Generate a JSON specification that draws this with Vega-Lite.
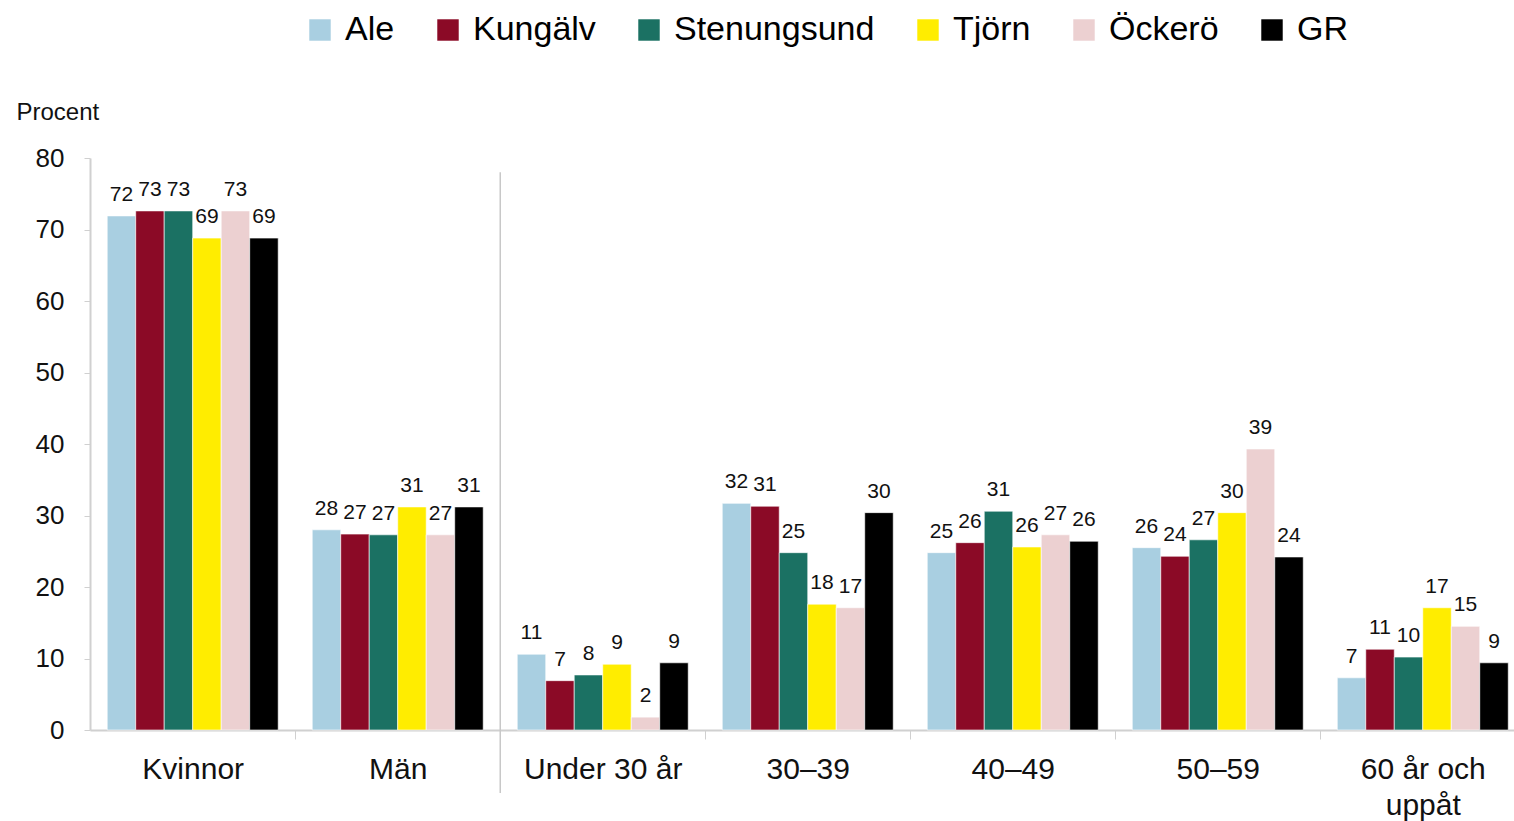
{
  "$schema": "https://vega.github.io/schema/vega-lite/v6.json",
  "width": 1424,
  "height": 572,
  "autosize": "none",
  "padding": {"left": 90, "top": 158, "right": 0, "bottom": 91},
  "background": "white",
  "config": {"view": {"stroke": null}, "font": "Liberation Sans"},
  "datasets": {
    "bars": [
      {"cat": "Kvinnor", "series": "Ale", "value": 71.9},
      {"cat": "Kvinnor", "series": "Kungälv", "value": 72.6},
      {"cat": "Kvinnor", "series": "Stenungsund", "value": 72.6},
      {"cat": "Kvinnor", "series": "Tjörn", "value": 68.8},
      {"cat": "Kvinnor", "series": "Öckerö", "value": 72.6},
      {"cat": "Kvinnor", "series": "GR", "value": 68.8},
      {"cat": "Män", "series": "Ale", "value": 28.0},
      {"cat": "Män", "series": "Kungälv", "value": 27.4},
      {"cat": "Män", "series": "Stenungsund", "value": 27.3},
      {"cat": "Män", "series": "Tjörn", "value": 31.2},
      {"cat": "Män", "series": "Öckerö", "value": 27.3},
      {"cat": "Män", "series": "GR", "value": 31.2},
      {"cat": "Under 30 år", "series": "Ale", "value": 10.6},
      {"cat": "Under 30 år", "series": "Kungälv", "value": 6.9},
      {"cat": "Under 30 år", "series": "Stenungsund", "value": 7.7},
      {"cat": "Under 30 år", "series": "Tjörn", "value": 9.2},
      {"cat": "Under 30 år", "series": "Öckerö", "value": 1.8},
      {"cat": "Under 30 år", "series": "GR", "value": 9.4},
      {"cat": "30–39", "series": "Ale", "value": 31.7},
      {"cat": "30–39", "series": "Kungälv", "value": 31.3},
      {"cat": "30–39", "series": "Stenungsund", "value": 24.8},
      {"cat": "30–39", "series": "Tjörn", "value": 17.6},
      {"cat": "30–39", "series": "Öckerö", "value": 17.1},
      {"cat": "30–39", "series": "GR", "value": 30.4},
      {"cat": "40–49", "series": "Ale", "value": 24.8},
      {"cat": "40–49", "series": "Kungälv", "value": 26.2},
      {"cat": "40–49", "series": "Stenungsund", "value": 30.6},
      {"cat": "40–49", "series": "Tjörn", "value": 25.6},
      {"cat": "40–49", "series": "Öckerö", "value": 27.3},
      {"cat": "40–49", "series": "GR", "value": 26.4},
      {"cat": "50–59", "series": "Ale", "value": 25.5},
      {"cat": "50–59", "series": "Kungälv", "value": 24.3},
      {"cat": "50–59", "series": "Stenungsund", "value": 26.6},
      {"cat": "50–59", "series": "Tjörn", "value": 30.4},
      {"cat": "50–59", "series": "Öckerö", "value": 39.3},
      {"cat": "50–59", "series": "GR", "value": 24.2},
      {"cat": "60 år och uppåt", "series": "Ale", "value": 7.3},
      {"cat": "60 år och uppåt", "series": "Kungälv", "value": 11.3},
      {"cat": "60 år och uppåt", "series": "Stenungsund", "value": 10.2},
      {"cat": "60 år och uppåt", "series": "Tjörn", "value": 17.1},
      {"cat": "60 år och uppåt", "series": "Öckerö", "value": 14.5},
      {"cat": "60 år och uppåt", "series": "GR", "value": 9.4}
    ],
    "sep": [{"cat": "Under 30 år", "top": 78, "bottom": -8.8}]
  },
  "layer": [
    {
      "data": {"name": "bars"},
      "mark": {"type": "bar", "stroke": "white", "strokeWidth": 0.6},
      "encoding": {
        "x": {
          "field": "cat", "type": "nominal", "sort": null,
          "scale": {"paddingInner": 0.166, "paddingOuter": 0.056, "align": 0.75},
          "axis": {
            "title": null, "labelAngle": 0, "labelFontSize": 30, "labelColor": "#111",
            "labelFont": "Liberation Sans", "labelPadding": 30,
            "tickOffset": 102.5, "labelOffset": -102.5, "tickSize": 9, "tickColor": "#d0d0d0",
            "domainColor": "#d0d0d0", "domainWidth": 2,
            "labelLineHeight": 36, "labelBaseline": "middle",
            "labelExpr": "datum.label == '60 år och uppåt' ? ['60 år och', 'uppåt'] : datum.label"
          }
        },
        "xOffset": {"field": "series", "type": "nominal", "sort": ["Ale", "Kungälv", "Stenungsund", "Tjörn", "Öckerö", "GR"]},
        "y": {
          "field": "value", "type": "quantitative",
          "scale": {"domain": [0, 80], "nice": false},
          "axis": {
            "title": "Procent", "titleAngle": 0, "titleAlign": "left", "titleBaseline": "middle",
            "titleX": -74, "titleY": -46, "titleFontSize": 24, "titleFontWeight": "normal", "titleColor": "#111",
            "titleFont": "Liberation Sans",
            "values": [0, 10, 20, 30, 40, 50, 60, 70, 80], "labelOverlap": false,
            "grid": false, "labelFontSize": 26, "labelColor": "#111", "labelPadding": 20,
            "tickSize": 6, "tickColor": "#d0d0d0", "domainColor": "#d0d0d0", "domainWidth": 2
          }
        },
        "color": {
          "field": "series", "type": "nominal",
          "sort": ["Ale", "Kungälv", "Stenungsund", "Tjörn", "Öckerö", "GR"],
          "scale": {
            "domain": ["Ale", "Kungälv", "Stenungsund", "Tjörn", "Öckerö", "GR"],
            "range": ["#a9cfe1", "#8b0a26", "#1b7163", "#ffed00", "#ecd0d1", "#000000"]
          },
          "legend": {
            "title": null, "orient": "none", "direction": "horizontal",
            "legendX": 213, "legendY": -145,
            "symbolType": "square", "symbolSize": 460, "symbolStrokeWidth": 0,
            "labelFontSize": 34, "labelFont": "Liberation Sans",
            "labelColor": "#000", "columnPadding": 36, "labelOffset": 8, "labelLimit": 400
          }
        }
      }
    },
    {
      "data": {"name": "bars"},
      "mark": {"type": "text", "baseline": "alphabetic", "dy": -15, "fontSize": 21, "color": "#111"},
      "encoding": {
        "x": {"field": "cat", "type": "nominal", "sort": null},
        "xOffset": {"field": "series", "type": "nominal", "sort": ["Ale", "Kungälv", "Stenungsund", "Tjörn", "Öckerö", "GR"]},
        "y": {"field": "value", "type": "quantitative"},
        "text": {"field": "value", "type": "quantitative", "format": ".0f"}
      }
    },
    {
      "data": {"name": "sep"},
      "mark": {"type": "rule", "color": "#c8c8c8", "strokeWidth": 1.5, "clip": false},
      "encoding": {
        "x": {"field": "cat", "type": "nominal", "sort": null, "bandPosition": -0.0994},
        "y": {"field": "top", "type": "quantitative"},
        "y2": {"field": "bottom"}
      }
    }
  ]
}
